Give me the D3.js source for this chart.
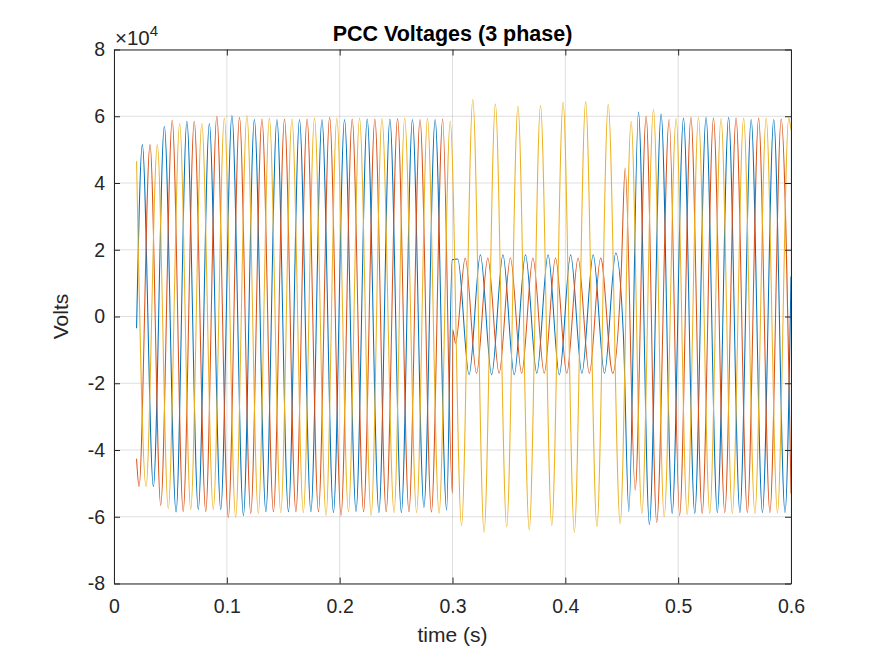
<!DOCTYPE html>
<html>
<head>
<meta charset="utf-8">
<script src="https://cdn.jsdelivr.net/npm/d3@7"></script>
<style>
  body { margin: 0; background: #fff; }
  svg text { font-family: "Liberation Sans", Arial, Helvetica, sans-serif; fill: #262626; }
</style>
</head>
<body>
<div id="chart"></div>
<script>
// tick labels
const xTicks = [0, 0.1, 0.2, 0.3, 0.4, 0.5, 0.6];
const yTicks = [-8, -6, -4, -2, 0, 2, 4, 6, 8];
const yExponent = 4; // values below are in units of 10^4 V

// phase voltages: [time (s), volts / 1e4] at start, peaks and troughs
const phaseA = [
  [0.0200, -0.35], [0.0251, 5.15], [0.0349, -5.10], [0.0446, 5.70], [0.0550, -5.86],
  [0.0646, 5.85], [0.0747, -5.78], [0.0845, 5.78], [0.0946, -5.78], [0.1045, 6.02],
  [0.1147, -5.96], [0.1244, 5.90], [0.1346, -5.85], [0.1444, 5.90], [0.1546, -5.85],
  [0.1644, 5.90], [0.1745, -5.85], [0.1843, 5.90], [0.1945, -5.87], [0.2043, 5.90],
  [0.2145, -5.84], [0.2244, 5.92], [0.2348, -5.87], [0.2445, 5.92], [0.2547, -5.87],
  [0.2645, 5.90], [0.2747, -5.72], [0.2846, 5.90], [0.2948, -5.80],
  [0.2997, 1.70], [0.3047, 1.72], [0.3147, -1.75], [0.3247, 1.85], [0.3347, -1.75],
  [0.3447, 1.85], [0.3547, -1.75], [0.3647, 1.85], [0.3747, -1.70], [0.3847, 1.85],
  [0.3947, -1.75], [0.4047, 1.85], [0.4147, -1.70], [0.4247, 1.85], [0.4347, -1.70],
  [0.4447, 1.90], [0.4515, -0.60],
  [0.4563, -5.84], [0.4648, 6.13], [0.4745, -6.23], [0.4849, 6.07], [0.4947, -5.90],
  [0.5047, 5.95], [0.5147, -5.90], [0.5247, 5.97], [0.5347, -5.87], [0.5447, 5.97],
  [0.5547, -5.87], [0.5647, 5.90], [0.5747, -5.87], [0.5847, 5.90], [0.5947, -5.87],
  [0.6000, 1.20]
];

const phaseB = [
  [0.0200, -4.26], [0.0222, -5.10], [0.0319, 5.15], [0.0414, -5.66], [0.0516, 5.88],
  [0.0613, -5.84], [0.0711, 5.85], [0.0813, -5.84], [0.0911, 6.00], [0.1013, -6.02],
  [0.1112, 5.97], [0.1212, -5.90], [0.1311, 5.92], [0.1413, -5.85], [0.1511, 5.92],
  [0.1612, -5.85], [0.1711, 5.92], [0.1812, -5.85], [0.1911, 5.97], [0.2012, -5.96],
  [0.2111, 5.92], [0.2212, -5.85], [0.2312, 5.92], [0.2412, -5.85], [0.2513, 5.93],
  [0.2614, -5.85], [0.2712, 5.90], [0.2813, -5.86], [0.2913, 5.92], [0.2999, -5.30],
  [0.3002, -0.40], [0.3027, -0.80], [0.3113, 1.75], [0.3213, -1.70], [0.3313, 1.75],
  [0.3413, -1.70], [0.3513, 1.75], [0.3613, -1.70], [0.3713, 1.75], [0.3813, -1.70],
  [0.3913, 1.75], [0.4013, -1.70], [0.4113, 1.75], [0.4213, -1.70], [0.4313, 1.75],
  [0.4420, -1.70], [0.4495, 1.30], [0.4530, 4.45],
  [0.4619, -5.20], [0.4716, 6.00], [0.4810, -6.17], [0.4920, 5.90], [0.5013, -5.96],
  [0.5113, 5.97], [0.5213, -5.90], [0.5313, 5.95], [0.5413, -5.87], [0.5513, 5.95],
  [0.5613, -5.87], [0.5713, 5.95], [0.5813, -5.87], [0.5913, 5.92], [0.6000, -5.30]
];

const phaseC = [
  [0.0200, 4.65], [0.0284, -5.10], [0.0384, 5.15], [0.0481, -5.76], [0.0582, 5.78],
  [0.0680, -5.78], [0.0778, 5.78], [0.0880, -5.78], [0.0978, 5.95], [0.1078, -6.02],
  [0.1178, 6.02], [0.1279, -5.90], [0.1377, 5.95], [0.1478, -5.87], [0.1577, 5.92],
  [0.1678, -5.87], [0.1777, 5.95], [0.1879, -5.96], [0.1975, 5.95], [0.2078, -5.85],
  [0.2176, 5.95], [0.2279, -5.96], [0.2375, 5.93], [0.2482, -5.87], [0.2576, 5.95],
  [0.2682, -5.87], [0.2778, 5.93], [0.2881, -5.90], [0.2980, 5.85],
  [0.3080, -6.26], [0.3180, 6.50], [0.3280, -6.46], [0.3380, 6.37], [0.3480, -6.30],
  [0.3580, 6.30], [0.3680, -6.39], [0.3780, 6.32], [0.3880, -6.26], [0.3980, 6.42],
  [0.4080, -6.46], [0.4180, 6.43], [0.4280, -6.30], [0.4380, 6.35], [0.4486, -6.20],
  [0.4583, 5.85], [0.4678, -5.90], [0.4781, 6.20], [0.4876, -6.00], [0.4982, 5.93],
  [0.5080, -5.93], [0.5180, 5.97], [0.5280, -5.90], [0.5380, 5.93], [0.5480, -5.90],
  [0.5580, 5.95], [0.5680, -5.90], [0.5780, 5.95], [0.5880, -5.88], [0.5980, 5.95],
  [0.6000, 5.60]
];

const seriesList = [phaseA, phaseB, phaseC];
const seriesColors = ['#0072BD', '#D95319', '#EDB120'];

const width = 875, height = 656;
const margin = { top: 49.5, right: 84, bottom: 72.5, left: 114 };
const iw = width - margin.left - margin.right;
const ih = height - margin.top - margin.bottom;
const axisColor = '#262626';

const svg = d3.select('#chart').append('svg')
  .attr('width', width)
  .attr('height', height);

svg.append('rect').attr('width', width).attr('height', height).attr('fill', '#fff');

const chart = svg.append('g')
  .attr('transform', `translate(${margin.left},${margin.top})`);

const x = d3.scaleLinear().domain([0, 0.6]).range([0, iw]);
const y = d3.scaleLinear().domain([-8, 8]).range([ih, 0]);

// grid
chart.append('g').attr('class', 'grid')
  .selectAll('line.gx').data(xTicks).join('line')
  .attr('x1', d => x(d)).attr('x2', d => x(d))
  .attr('y1', 0).attr('y2', ih)
  .attr('stroke', axisColor).attr('stroke-opacity', 0.15);
chart.append('g').attr('class', 'grid')
  .selectAll('line.gy').data(yTicks).join('line')
  .attr('x1', 0).attr('x2', iw)
  .attr('y1', d => y(d)).attr('y2', d => y(d))
  .attr('stroke', axisColor).attr('stroke-opacity', 0.15);

// lines
chart.append('clipPath').attr('id', 'plot-clip')
  .append('rect').attr('width', iw).attr('height', ih);

const line = d3.line()
  .x(d => x(d[0]))
  .y(d => y(d[1]))
  .curve(d3.curveMonotoneX);

chart.append('g').attr('clip-path', 'url(#plot-clip)')
  .selectAll('path').data(seriesList).join('path')
  .attr('fill', 'none')
  .attr('stroke', (d, i) => seriesColors[i])
  .attr('stroke-width', 1.05)
  .attr('d', line);

// axes (ticks point inward like MATLAB)
const fmt = d => String(d);
const tickLen = 6;

const styleAxis = g => {
  g.select('.domain').attr('stroke', axisColor);
  g.selectAll('.tick line').attr('stroke', axisColor);
  g.selectAll('.tick text').attr('fill', axisColor).style('font-size', '19.5px');
};

chart.append('g')
  .attr('transform', `translate(0,${ih})`)
  .call(d3.axisBottom(x).tickValues(xTicks).tickFormat(fmt).tickSize(-tickLen).tickSizeOuter(0).tickPadding(16))
  .call(styleAxis);
chart.append('g')
  .call(d3.axisTop(x).tickValues(xTicks).tickFormat('').tickSize(-tickLen).tickSizeOuter(0))
  .call(styleAxis);
chart.append('g')
  .call(d3.axisLeft(y).tickValues(yTicks).tickFormat(fmt).tickSize(-tickLen).tickSizeOuter(0).tickPadding(9))
  .call(styleAxis);
chart.append('g')
  .attr('transform', `translate(${iw},0)`)
  .call(d3.axisRight(y).tickValues(yTicks).tickFormat('').tickSize(-tickLen).tickSizeOuter(0))
  .call(styleAxis);

svg.selectAll('g').attr('font-family', null);

// exponent label
const expo = chart.append('text')
  .attr('x', 1)
  .attr('y', -5)
  .style('font-size', '20.5px');
expo.append('tspan').text('\u00d710');
expo.append('tspan').attr('dy', -9).style('font-size', '15px').text(yExponent);

// title and axis labels
chart.append('text')
  .attr('x', iw / 2)
  .attr('y', -8.5)
  .attr('text-anchor', 'middle')
  .style('font-size', '21.5px')
  .style('font-weight', 'bold')
  .style('fill', '#000')
  .text('PCC Voltages (3 phase)');

chart.append('text')
  .attr('x', iw / 2)
  .attr('y', ih + 58)
  .attr('text-anchor', 'middle')
  .style('font-size', '21px')
  .text('time (s)');

chart.append('text')
  .attr('transform', `translate(${-46},${ih / 2}) rotate(-90)`)
  .attr('text-anchor', 'middle')
  .style('font-size', '21px')
  .text('Volts');
</script>
</body>
</html>
